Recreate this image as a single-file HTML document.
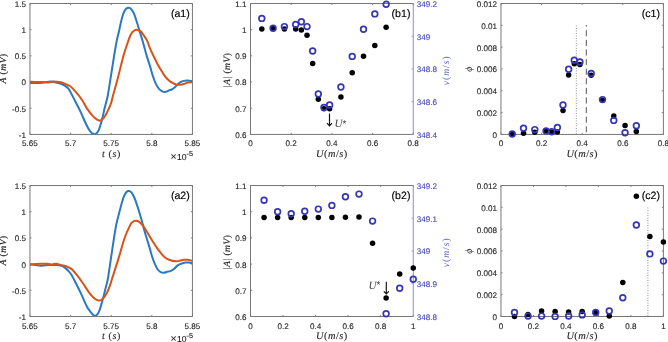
<!DOCTYPE html>
<html><head><meta charset="utf-8"><style>
html,body{margin:0;padding:0;background:#fff;}
svg{display:block;will-change:transform;}
</style></head><body>
<svg width="668" height="342" viewBox="0 0 668 342" text-rendering="geometricPrecision">
<rect width="668" height="342" fill="#fff"/>
<defs><clipPath id="ca1"><rect x="29.96" y="3" width="162.49" height="131.95"/></clipPath></defs>
<g clip-path="url(#ca1)" fill="none" stroke-width="2" stroke-linejoin="round">
<path d="M30 83C31.17 83 34.67 83.1 37 83C39.33 82.9 41.75 82.67 44 82.4C46.25 82.13 48.55 81.4 50.5 81.4C52.45 81.4 54.05 82.05 55.7 82.4C57.35 82.75 58.83 82.92 60.4 83.5C61.97 84.08 63.73 85.02 65.1 85.9C66.47 86.78 67.55 87.47 68.6 88.8C69.65 90.13 70.17 91.58 71.4 93.9C72.63 96.22 74.45 99.67 76 102.7C77.55 105.73 79.03 108.55 80.7 112.1C82.37 115.65 84.45 120.83 86 124C87.55 127.17 88.75 129.43 90 131.1C91.25 132.77 92.43 133.62 93.5 134C94.57 134.38 95.52 134.08 96.4 133.4C97.28 132.72 98.02 131.65 98.8 129.9C99.58 128.15 100.42 125.23 101.1 122.9C101.78 120.57 102.32 118.33 102.9 115.9C103.48 113.47 104.02 110.73 104.6 108.3C105.18 105.87 105.87 103.43 106.4 101.3C106.93 99.17 107.03 99.8 107.8 95.5C108.57 91.2 109.97 82 111 75.5C112.03 69 113.08 62.08 114 56.5C114.92 50.92 115.67 46.22 116.5 42C117.33 37.78 118.2 34.75 119 31.2C119.8 27.65 120.55 23.72 121.3 20.7C122.05 17.68 122.7 15.08 123.5 13.1C124.3 11.12 125.22 9.68 126.1 8.8C126.98 7.92 127.92 7.72 128.8 7.8C129.68 7.88 130.48 8.22 131.4 9.3C132.32 10.38 133.37 12.1 134.3 14.3C135.23 16.5 136.17 19.87 137 22.5C137.83 25.13 138.32 26.85 139.3 30.1C140.28 33.35 141.67 37.7 142.9 42C144.13 46.3 145.52 51.88 146.7 55.9C147.88 59.92 149.02 62.87 150 66.1C150.98 69.33 151.67 72.42 152.6 75.3C153.53 78.18 154.5 81.1 155.6 83.4C156.7 85.7 158 87.73 159.2 89.1C160.4 90.47 161.7 91.15 162.8 91.6C163.9 92.05 164.78 92 165.8 91.8C166.82 91.6 167.87 90.8 168.9 90.4C169.93 90 170.88 90.05 172 89.4C173.12 88.75 174.32 87.63 175.6 86.5C176.88 85.37 178.35 83.53 179.7 82.6C181.05 81.67 182.35 81.23 183.7 80.9C185.05 80.57 186.38 80.55 187.8 80.6C189.22 80.65 191.47 81.1 192.2 81.2" stroke="#2b79c2"/>
<path d="M30 81.8C31.17 81.85 34.85 82.07 37 82.1C39.15 82.13 40.95 81.95 42.9 82C44.85 82.05 46.95 82.47 48.7 82.4C50.45 82.33 51.65 81.65 53.4 81.6C55.15 81.55 57.38 81.78 59.2 82.1C61.02 82.42 62.47 82.8 64.3 83.5C66.13 84.2 68.25 84.85 70.2 86.3C72.15 87.75 74.05 89.95 76 92.2C77.95 94.45 80.05 97.07 81.9 99.8C83.75 102.53 85.35 105.97 87.1 108.6C88.85 111.23 90.73 113.75 92.4 115.6C94.07 117.45 95.85 118.87 97.1 119.7C98.35 120.53 98.93 120.75 99.9 120.6C100.87 120.45 101.92 119.78 102.9 118.8C103.88 117.82 104.83 116.35 105.8 114.7C106.77 113.05 107.82 110.85 108.7 108.9C109.58 106.95 110.4 105.15 111.1 103C111.8 100.85 111.75 100.25 112.9 96C114.05 91.75 116.25 84.17 118 77.5C119.75 70.83 121.75 61.92 123.4 56C125.05 50.08 126.67 45.58 127.9 42C129.13 38.42 129.73 36.42 130.8 34.5C131.87 32.58 133.18 31.27 134.3 30.5C135.42 29.73 136.43 29.77 137.5 29.9C138.57 30.03 139.62 30.32 140.7 31.3C141.78 32.28 142.92 34.2 144 35.8C145.08 37.4 146.17 38.72 147.2 40.9C148.23 43.08 148.53 45.13 150.2 48.9C151.87 52.67 155.45 60.05 157.2 63.5C158.95 66.95 159.52 67.63 160.7 69.6C161.88 71.57 163.02 73.58 164.3 75.3C165.58 77.02 167.03 78.63 168.4 79.9C169.77 81.17 171.13 82.1 172.5 82.9C173.87 83.7 175.32 84.4 176.6 84.7C177.88 85 179.02 84.82 180.2 84.7C181.38 84.58 182.43 84.38 183.7 84C184.97 83.62 186.38 82.7 187.8 82.4C189.22 82.1 191.47 82.23 192.2 82.2" stroke="#D95319"/>
</g>
<path d="M29.96 3.5H192.45M29.96 134.45H192.45M29.96 3.5V134.45" stroke="#777777" stroke-width="1" fill="none"/>
<path d="M192.45 3.5V134.45" stroke="#777777" stroke-width="1" fill="none"/>
<path d="M29.96 134.45v-1.6M29.96 3.5v1.6M70.58 134.45v-1.6M70.58 3.5v1.6M111.2 134.45v-1.6M111.2 3.5v1.6M151.83 134.45v-1.6M151.83 3.5v1.6M192.45 134.45v-1.6M192.45 3.5v1.6" stroke="#777777" stroke-width="0.9" fill="none"/>
<text x="29.96" y="146.45" font-size="8.1" text-anchor="middle" fill="#262626" font-family='"Liberation Sans", sans-serif' stroke="#262626" stroke-width="0.12">5.65</text>
<text x="70.58" y="146.45" font-size="8.1" text-anchor="middle" fill="#262626" font-family='"Liberation Sans", sans-serif' stroke="#262626" stroke-width="0.12">5.7</text>
<text x="111.2" y="146.45" font-size="8.1" text-anchor="middle" fill="#262626" font-family='"Liberation Sans", sans-serif' stroke="#262626" stroke-width="0.12">5.75</text>
<text x="151.83" y="146.45" font-size="8.1" text-anchor="middle" fill="#262626" font-family='"Liberation Sans", sans-serif' stroke="#262626" stroke-width="0.12">5.8</text>
<text x="192.45" y="146.45" font-size="8.1" text-anchor="middle" fill="#262626" font-family='"Liberation Sans", sans-serif' stroke="#262626" stroke-width="0.12">5.85</text>
<path d="M29.96 134.45h1.6M192.45 134.45h-1.6M29.96 108.26h1.6M192.45 108.26h-1.6M29.96 82.07h1.6M192.45 82.07h-1.6M29.96 55.88h1.6M192.45 55.88h-1.6M29.96 29.69h1.6M192.45 29.69h-1.6M29.96 3.5h1.6M192.45 3.5h-1.6" stroke="#777777" stroke-width="0.9" fill="none"/>
<text x="26.06" y="137.85" font-size="8.1" text-anchor="end" fill="#262626" font-family='"Liberation Sans", sans-serif' stroke="#262626" stroke-width="0.12">-1</text>
<text x="26.06" y="111.66" font-size="8.1" text-anchor="end" fill="#262626" font-family='"Liberation Sans", sans-serif' stroke="#262626" stroke-width="0.12">-0.5</text>
<text x="26.06" y="85.47" font-size="8.1" text-anchor="end" fill="#262626" font-family='"Liberation Sans", sans-serif' stroke="#262626" stroke-width="0.12">0</text>
<text x="26.06" y="59.28" font-size="8.1" text-anchor="end" fill="#262626" font-family='"Liberation Sans", sans-serif' stroke="#262626" stroke-width="0.12">0.5</text>
<text x="26.06" y="33.09" font-size="8.1" text-anchor="end" fill="#262626" font-family='"Liberation Sans", sans-serif' stroke="#262626" stroke-width="0.12">1</text>
<text x="26.06" y="6.9" font-size="8.1" text-anchor="end" fill="#262626" font-family='"Liberation Sans", sans-serif' stroke="#262626" stroke-width="0.12">1.5</text>
<text x="111.4" y="157.2" font-size="10" text-anchor="middle" fill="#262626" font-family='"Liberation Serif", serif' font-style="italic" stroke="#262626" stroke-width="0.12" xml:space="preserve" letter-spacing="0.6">t <tspan font-style="normal">(</tspan>s<tspan font-style="normal">)</tspan></text>
<text x="170.6" y="160.3" font-size="10.5" text-anchor="start" fill="#262626" font-family='"Liberation Sans", sans-serif' stroke="#262626" stroke-width="0.1">&#215;</text>
<text x="177" y="160" font-size="8.6" text-anchor="start" fill="#262626" font-family='"Liberation Sans", sans-serif' stroke="#262626" stroke-width="0.12">10</text>
<text x="186.6" y="156.3" font-size="7.2" text-anchor="start" fill="#262626" font-family='"Liberation Sans", sans-serif' stroke="#262626" stroke-width="0.12">-5</text>
<text transform="translate(6.4 68.4) rotate(-90)" font-size="9.6" text-anchor="middle" fill="#262626" font-family='"Liberation Serif", serif' font-style="italic" letter-spacing="0.5" stroke="#262626" stroke-width="0.2">A <tspan font-style="normal">(</tspan>mV<tspan font-style="normal">)</tspan></text>
<text x="180.3" y="16.6" font-size="10.6" text-anchor="middle" fill="#000" font-family='"Liberation Sans", sans-serif' stroke="#000" stroke-width="0.15">(a1)</text>
<defs><clipPath id="ca2"><rect x="29.96" y="185" width="162.49" height="132"/></clipPath></defs>
<g clip-path="url(#ca2)" fill="none" stroke-width="2" stroke-linejoin="round">
<path d="M30 264.4C30.97 264.5 34.05 264.77 35.8 265C37.55 265.23 38.93 265.75 40.5 265.8C42.07 265.85 43.63 265.43 45.2 265.3C46.77 265.17 48.15 265.05 49.9 265C51.65 264.95 53.75 264.87 55.7 265C57.65 265.13 60.03 265.32 61.6 265.8C63.17 266.28 63.95 267.03 65.1 267.9C66.25 268.77 67.45 269.85 68.5 271C69.55 272.15 70.15 272.72 71.4 274.8C72.65 276.88 74.45 280.48 76 283.5C77.55 286.52 78.93 289.15 80.7 292.9C82.47 296.65 85.05 302.93 86.6 306C88.15 309.07 88.75 309.68 90 311.3C91.25 312.92 92.93 315.12 94.1 315.7C95.27 316.28 96.12 315.63 97 314.8C97.88 313.97 98.62 312.65 99.4 310.7C100.18 308.75 101.02 305.43 101.7 303.1C102.38 300.77 102.92 298.93 103.5 296.7C104.08 294.47 104.62 292.03 105.2 289.7C105.78 287.37 106.52 284.73 107 282.7C107.48 280.67 107.43 281.62 108.1 277.5C108.77 273.38 110.02 264.58 111 258C111.98 251.42 113.1 243.67 114 238C114.9 232.33 115.55 228.13 116.4 224C117.25 219.87 118.25 216.55 119.1 213.2C119.95 209.85 120.72 206.67 121.5 203.9C122.28 201.13 122.97 198.58 123.8 196.6C124.63 194.62 125.67 192.93 126.5 192C127.33 191.07 127.98 190.93 128.8 191C129.62 191.07 130.48 191.32 131.4 192.4C132.32 193.48 133.33 195.3 134.3 197.5C135.27 199.7 136.32 202.98 137.2 205.6C138.08 208.22 138.68 210.13 139.6 213.2C140.52 216.27 141.97 221.33 142.7 224C143.43 226.67 143.2 226.38 144 229.2C144.8 232.02 146.5 237.58 147.5 240.9C148.5 244.22 149.25 246.55 150 249.1C150.75 251.65 151.23 253.82 152 256.2C152.77 258.58 153.65 261.18 154.6 263.4C155.55 265.62 156.68 268.05 157.7 269.5C158.72 270.95 159.68 271.55 160.7 272.1C161.72 272.65 162.77 272.85 163.8 272.8C164.83 272.75 165.8 272.08 166.9 271.8C168 271.52 169.22 271.57 170.4 271.1C171.58 270.63 172.8 269.95 174 269C175.2 268.05 176.4 266.28 177.6 265.4C178.8 264.52 179.92 264.17 181.2 263.7C182.48 263.23 184.02 262.78 185.3 262.6C186.58 262.42 187.75 262.5 188.9 262.6C190.05 262.7 191.65 263.1 192.2 263.2" stroke="#2b79c2"/>
<path d="M30 264.4C31.57 264.3 36.48 263.9 39.4 263.8C42.32 263.7 45.37 263.7 47.5 263.8C49.63 263.9 50.73 264.4 52.2 264.4C53.67 264.4 54.73 263.65 56.3 263.8C57.87 263.95 60.07 264.93 61.6 265.3C63.13 265.67 63.87 265.4 65.5 266C67.13 266.6 69.45 267.33 71.4 268.9C73.35 270.47 75.25 272.97 77.2 275.4C79.15 277.83 81.15 280.68 83.1 283.5C85.05 286.32 87.05 289.85 88.9 292.3C90.75 294.75 92.63 296.83 94.2 298.2C95.77 299.57 97.15 300.2 98.3 300.5C99.45 300.8 100.15 300.53 101.1 300C102.05 299.47 103.02 298.53 104 297.3C104.98 296.07 106.02 294.55 107 292.6C107.98 290.65 109.02 288.03 109.9 285.6C110.78 283.17 110.83 282.62 112.3 278C113.77 273.38 116.65 264.57 118.7 257.9C120.75 251.23 122.68 243.47 124.6 238C126.52 232.53 128.92 227.73 130.2 225.1C131.48 222.47 131.45 222.92 132.3 222.2C133.15 221.48 134.22 220.9 135.3 220.8C136.38 220.7 137.53 220.78 138.8 221.6C140.07 222.42 141.45 223.85 142.9 225.7C144.35 227.55 145.85 230.07 147.5 232.7C149.15 235.33 151.23 238.97 152.8 241.5C154.37 244.03 155.53 245.95 156.9 247.9C158.27 249.85 159.6 251.55 161 253.2C162.4 254.85 163.73 256.62 165.3 257.8C166.87 258.98 168.68 259.73 170.4 260.3C172.12 260.87 174.05 261.12 175.6 261.2C177.15 261.28 178.35 261.03 179.7 260.8C181.05 260.57 182.35 259.97 183.7 259.8C185.05 259.63 186.38 259.63 187.8 259.8C189.22 259.97 191.47 260.63 192.2 260.8" stroke="#D95319"/>
</g>
<path d="M29.96 185.5H192.45M29.96 316.5H192.45M29.96 185.5V316.5" stroke="#777777" stroke-width="1" fill="none"/>
<path d="M192.45 185.5V316.5" stroke="#777777" stroke-width="1" fill="none"/>
<path d="M29.96 316.5v-1.6M29.96 185.5v1.6M70.58 316.5v-1.6M70.58 185.5v1.6M111.2 316.5v-1.6M111.2 185.5v1.6M151.83 316.5v-1.6M151.83 185.5v1.6M192.45 316.5v-1.6M192.45 185.5v1.6" stroke="#777777" stroke-width="0.9" fill="none"/>
<text x="29.96" y="328.5" font-size="8.1" text-anchor="middle" fill="#262626" font-family='"Liberation Sans", sans-serif' stroke="#262626" stroke-width="0.12">5.65</text>
<text x="70.58" y="328.5" font-size="8.1" text-anchor="middle" fill="#262626" font-family='"Liberation Sans", sans-serif' stroke="#262626" stroke-width="0.12">5.7</text>
<text x="111.2" y="328.5" font-size="8.1" text-anchor="middle" fill="#262626" font-family='"Liberation Sans", sans-serif' stroke="#262626" stroke-width="0.12">5.75</text>
<text x="151.83" y="328.5" font-size="8.1" text-anchor="middle" fill="#262626" font-family='"Liberation Sans", sans-serif' stroke="#262626" stroke-width="0.12">5.8</text>
<text x="192.45" y="328.5" font-size="8.1" text-anchor="middle" fill="#262626" font-family='"Liberation Sans", sans-serif' stroke="#262626" stroke-width="0.12">5.85</text>
<path d="M29.96 316.5h1.6M192.45 316.5h-1.6M29.96 290.3h1.6M192.45 290.3h-1.6M29.96 264.1h1.6M192.45 264.1h-1.6M29.96 237.9h1.6M192.45 237.9h-1.6M29.96 211.7h1.6M192.45 211.7h-1.6M29.96 185.5h1.6M192.45 185.5h-1.6" stroke="#777777" stroke-width="0.9" fill="none"/>
<text x="26.06" y="319.9" font-size="8.1" text-anchor="end" fill="#262626" font-family='"Liberation Sans", sans-serif' stroke="#262626" stroke-width="0.12">-1</text>
<text x="26.06" y="293.7" font-size="8.1" text-anchor="end" fill="#262626" font-family='"Liberation Sans", sans-serif' stroke="#262626" stroke-width="0.12">-0.5</text>
<text x="26.06" y="267.5" font-size="8.1" text-anchor="end" fill="#262626" font-family='"Liberation Sans", sans-serif' stroke="#262626" stroke-width="0.12">0</text>
<text x="26.06" y="241.3" font-size="8.1" text-anchor="end" fill="#262626" font-family='"Liberation Sans", sans-serif' stroke="#262626" stroke-width="0.12">0.5</text>
<text x="26.06" y="215.1" font-size="8.1" text-anchor="end" fill="#262626" font-family='"Liberation Sans", sans-serif' stroke="#262626" stroke-width="0.12">1</text>
<text x="26.06" y="188.9" font-size="8.1" text-anchor="end" fill="#262626" font-family='"Liberation Sans", sans-serif' stroke="#262626" stroke-width="0.12">1.5</text>
<text x="111.4" y="339.2" font-size="10" text-anchor="middle" fill="#262626" font-family='"Liberation Serif", serif' font-style="italic" stroke="#262626" stroke-width="0.12" xml:space="preserve" letter-spacing="0.6">t <tspan font-style="normal">(</tspan>s<tspan font-style="normal">)</tspan></text>
<text x="170.6" y="342.3" font-size="10.5" text-anchor="start" fill="#262626" font-family='"Liberation Sans", sans-serif' stroke="#262626" stroke-width="0.1">&#215;</text>
<text x="177" y="342" font-size="8.6" text-anchor="start" fill="#262626" font-family='"Liberation Sans", sans-serif' stroke="#262626" stroke-width="0.12">10</text>
<text x="186.6" y="338.3" font-size="7.2" text-anchor="start" fill="#262626" font-family='"Liberation Sans", sans-serif' stroke="#262626" stroke-width="0.12">-5</text>
<text transform="translate(6.4 250.4) rotate(-90)" font-size="9.6" text-anchor="middle" fill="#262626" font-family='"Liberation Serif", serif' font-style="italic" letter-spacing="0.5" stroke="#262626" stroke-width="0.2">A <tspan font-style="normal">(</tspan>mV<tspan font-style="normal">)</tspan></text>
<text x="180.3" y="198.6" font-size="10.6" text-anchor="middle" fill="#000" font-family='"Liberation Sans", sans-serif' stroke="#000" stroke-width="0.15">(a2)</text>
<path d="M250.5 3.5H413.25M250.5 134.45H413.25M250.5 3.5V134.45" stroke="#777777" stroke-width="1" fill="none"/>
<path d="M413.25 3.5V134.45" stroke="#8c8cd6" stroke-width="1" fill="none"/>
<path d="M250.5 134.45v-1.6M250.5 3.5v1.6M291.19 134.45v-1.6M291.19 3.5v1.6M331.88 134.45v-1.6M331.88 3.5v1.6M372.56 134.45v-1.6M372.56 3.5v1.6M413.25 134.45v-1.6M413.25 3.5v1.6" stroke="#777777" stroke-width="0.9" fill="none"/>
<text x="250.5" y="146.45" font-size="8.1" text-anchor="middle" fill="#262626" font-family='"Liberation Sans", sans-serif' stroke="#262626" stroke-width="0.12">0</text>
<text x="291.19" y="146.45" font-size="8.1" text-anchor="middle" fill="#262626" font-family='"Liberation Sans", sans-serif' stroke="#262626" stroke-width="0.12">0.2</text>
<text x="331.88" y="146.45" font-size="8.1" text-anchor="middle" fill="#262626" font-family='"Liberation Sans", sans-serif' stroke="#262626" stroke-width="0.12">0.4</text>
<text x="372.56" y="146.45" font-size="8.1" text-anchor="middle" fill="#262626" font-family='"Liberation Sans", sans-serif' stroke="#262626" stroke-width="0.12">0.6</text>
<text x="413.25" y="146.45" font-size="8.1" text-anchor="middle" fill="#262626" font-family='"Liberation Sans", sans-serif' stroke="#262626" stroke-width="0.12">0.8</text>
<path d="M250.5 134.45h1.6M250.5 108.26h1.6M250.5 82.07h1.6M250.5 55.88h1.6M250.5 29.69h1.6M250.5 3.5h1.6" stroke="#777777" stroke-width="0.9" fill="none"/>
<text x="246.6" y="137.85" font-size="8.1" text-anchor="end" fill="#262626" font-family='"Liberation Sans", sans-serif' stroke="#262626" stroke-width="0.12">0.6</text>
<text x="246.6" y="111.66" font-size="8.1" text-anchor="end" fill="#262626" font-family='"Liberation Sans", sans-serif' stroke="#262626" stroke-width="0.12">0.7</text>
<text x="246.6" y="85.47" font-size="8.1" text-anchor="end" fill="#262626" font-family='"Liberation Sans", sans-serif' stroke="#262626" stroke-width="0.12">0.8</text>
<text x="246.6" y="59.28" font-size="8.1" text-anchor="end" fill="#262626" font-family='"Liberation Sans", sans-serif' stroke="#262626" stroke-width="0.12">0.9</text>
<text x="246.6" y="33.09" font-size="8.1" text-anchor="end" fill="#262626" font-family='"Liberation Sans", sans-serif' stroke="#262626" stroke-width="0.12">1</text>
<text x="246.6" y="6.9" font-size="8.1" text-anchor="end" fill="#262626" font-family='"Liberation Sans", sans-serif' stroke="#262626" stroke-width="0.12">1.1</text>
<path d="M413.25 134.45h-1.6M413.25 101.71h-1.6M413.25 68.97h-1.6M413.25 36.24h-1.6M413.25 3.5h-1.6" stroke="#8c8cd6" stroke-width="0.9" fill="none"/>
<text x="416.65" y="137.85" font-size="8.1" text-anchor="start" fill="#4a4ac0" font-family='"Liberation Sans", sans-serif' stroke="#4a4ac0" stroke-width="0.12">348.4</text>
<text x="416.65" y="105.11" font-size="8.1" text-anchor="start" fill="#4a4ac0" font-family='"Liberation Sans", sans-serif' stroke="#4a4ac0" stroke-width="0.12">348.6</text>
<text x="416.65" y="72.37" font-size="8.1" text-anchor="start" fill="#4a4ac0" font-family='"Liberation Sans", sans-serif' stroke="#4a4ac0" stroke-width="0.12">348.8</text>
<text x="416.65" y="39.64" font-size="8.1" text-anchor="start" fill="#4a4ac0" font-family='"Liberation Sans", sans-serif' stroke="#4a4ac0" stroke-width="0.12">349</text>
<text x="416.65" y="6.9" font-size="8.1" text-anchor="start" fill="#4a4ac0" font-family='"Liberation Sans", sans-serif' stroke="#4a4ac0" stroke-width="0.12">349.2</text>
<circle cx="261.8" cy="29" r="2.75" fill="#000"/>
<circle cx="273.1" cy="28.6" r="2.75" fill="#000"/>
<circle cx="284.41" cy="29" r="2.75" fill="#000"/>
<circle cx="295.71" cy="29" r="2.75" fill="#000"/>
<circle cx="301.36" cy="29.9" r="2.75" fill="#000"/>
<circle cx="307.01" cy="35.2" r="2.75" fill="#000"/>
<circle cx="312.66" cy="63.6" r="2.75" fill="#000"/>
<circle cx="318.31" cy="99.2" r="2.75" fill="#000"/>
<circle cx="323.96" cy="108.7" r="2.75" fill="#000"/>
<circle cx="329.61" cy="108.7" r="2.75" fill="#000"/>
<circle cx="340.92" cy="97" r="2.75" fill="#000"/>
<circle cx="352.22" cy="72.7" r="2.75" fill="#000"/>
<circle cx="363.52" cy="56.3" r="2.75" fill="#000"/>
<circle cx="374.82" cy="45.5" r="2.75" fill="#000"/>
<circle cx="386.12" cy="27.3" r="2.75" fill="#000"/>
<circle cx="261.8" cy="18.4" r="2.85" fill="none" stroke="#3636b4" stroke-width="1.7"/>
<circle cx="273.1" cy="28.2" r="2.85" fill="none" stroke="#3636b4" stroke-width="1.7"/>
<circle cx="284.41" cy="26.6" r="2.85" fill="none" stroke="#3636b4" stroke-width="1.7"/>
<circle cx="295.71" cy="24.5" r="2.85" fill="none" stroke="#3636b4" stroke-width="1.7"/>
<circle cx="301.36" cy="21.7" r="2.85" fill="none" stroke="#3636b4" stroke-width="1.7"/>
<circle cx="307.01" cy="26.6" r="2.85" fill="none" stroke="#3636b4" stroke-width="1.7"/>
<circle cx="312.66" cy="51" r="2.85" fill="none" stroke="#3636b4" stroke-width="1.7"/>
<circle cx="318.31" cy="93.9" r="2.85" fill="none" stroke="#3636b4" stroke-width="1.7"/>
<circle cx="323.96" cy="107.4" r="2.85" fill="none" stroke="#3636b4" stroke-width="1.7"/>
<circle cx="329.61" cy="105" r="2.85" fill="none" stroke="#3636b4" stroke-width="1.7"/>
<circle cx="340.92" cy="87" r="2.85" fill="none" stroke="#3636b4" stroke-width="1.7"/>
<circle cx="352.22" cy="56.4" r="2.85" fill="none" stroke="#3636b4" stroke-width="1.7"/>
<circle cx="363.52" cy="29.2" r="2.85" fill="none" stroke="#3636b4" stroke-width="1.7"/>
<circle cx="374.82" cy="13.9" r="2.85" fill="none" stroke="#3636b4" stroke-width="1.7"/>
<circle cx="386.12" cy="4.3" r="2.85" fill="none" stroke="#3636b4" stroke-width="1.7"/>
<path d="M250.5 185.5H413.25M250.5 316.5H413.25M250.5 185.5V316.5" stroke="#777777" stroke-width="1" fill="none"/>
<path d="M413.25 185.5V316.5" stroke="#8c8cd6" stroke-width="1" fill="none"/>
<path d="M250.5 316.5v-1.6M250.5 185.5v1.6M283.05 316.5v-1.6M283.05 185.5v1.6M315.6 316.5v-1.6M315.6 185.5v1.6M348.15 316.5v-1.6M348.15 185.5v1.6M380.7 316.5v-1.6M380.7 185.5v1.6M413.25 316.5v-1.6M413.25 185.5v1.6" stroke="#777777" stroke-width="0.9" fill="none"/>
<text x="250.5" y="328.5" font-size="8.1" text-anchor="middle" fill="#262626" font-family='"Liberation Sans", sans-serif' stroke="#262626" stroke-width="0.12">0</text>
<text x="283.05" y="328.5" font-size="8.1" text-anchor="middle" fill="#262626" font-family='"Liberation Sans", sans-serif' stroke="#262626" stroke-width="0.12">0.2</text>
<text x="315.6" y="328.5" font-size="8.1" text-anchor="middle" fill="#262626" font-family='"Liberation Sans", sans-serif' stroke="#262626" stroke-width="0.12">0.4</text>
<text x="348.15" y="328.5" font-size="8.1" text-anchor="middle" fill="#262626" font-family='"Liberation Sans", sans-serif' stroke="#262626" stroke-width="0.12">0.6</text>
<text x="380.7" y="328.5" font-size="8.1" text-anchor="middle" fill="#262626" font-family='"Liberation Sans", sans-serif' stroke="#262626" stroke-width="0.12">0.8</text>
<text x="413.25" y="328.5" font-size="8.1" text-anchor="middle" fill="#262626" font-family='"Liberation Sans", sans-serif' stroke="#262626" stroke-width="0.12">1</text>
<path d="M250.5 316.5h1.6M250.5 290.3h1.6M250.5 264.1h1.6M250.5 237.9h1.6M250.5 211.7h1.6M250.5 185.5h1.6" stroke="#777777" stroke-width="0.9" fill="none"/>
<text x="246.6" y="319.9" font-size="8.1" text-anchor="end" fill="#262626" font-family='"Liberation Sans", sans-serif' stroke="#262626" stroke-width="0.12">0.6</text>
<text x="246.6" y="293.7" font-size="8.1" text-anchor="end" fill="#262626" font-family='"Liberation Sans", sans-serif' stroke="#262626" stroke-width="0.12">0.7</text>
<text x="246.6" y="267.5" font-size="8.1" text-anchor="end" fill="#262626" font-family='"Liberation Sans", sans-serif' stroke="#262626" stroke-width="0.12">0.8</text>
<text x="246.6" y="241.3" font-size="8.1" text-anchor="end" fill="#262626" font-family='"Liberation Sans", sans-serif' stroke="#262626" stroke-width="0.12">0.9</text>
<text x="246.6" y="215.1" font-size="8.1" text-anchor="end" fill="#262626" font-family='"Liberation Sans", sans-serif' stroke="#262626" stroke-width="0.12">1</text>
<text x="246.6" y="188.9" font-size="8.1" text-anchor="end" fill="#262626" font-family='"Liberation Sans", sans-serif' stroke="#262626" stroke-width="0.12">1.1</text>
<path d="M413.25 316.5h-1.6M413.25 283.75h-1.6M413.25 251h-1.6M413.25 218.25h-1.6M413.25 185.5h-1.6" stroke="#8c8cd6" stroke-width="0.9" fill="none"/>
<text x="416.65" y="319.9" font-size="8.1" text-anchor="start" fill="#4a4ac0" font-family='"Liberation Sans", sans-serif' stroke="#4a4ac0" stroke-width="0.12">348.8</text>
<text x="416.65" y="287.15" font-size="8.1" text-anchor="start" fill="#4a4ac0" font-family='"Liberation Sans", sans-serif' stroke="#4a4ac0" stroke-width="0.12">348.9</text>
<text x="416.65" y="254.4" font-size="8.1" text-anchor="start" fill="#4a4ac0" font-family='"Liberation Sans", sans-serif' stroke="#4a4ac0" stroke-width="0.12">349</text>
<text x="416.65" y="221.65" font-size="8.1" text-anchor="start" fill="#4a4ac0" font-family='"Liberation Sans", sans-serif' stroke="#4a4ac0" stroke-width="0.12">349.1</text>
<text x="416.65" y="188.9" font-size="8.1" text-anchor="start" fill="#4a4ac0" font-family='"Liberation Sans", sans-serif' stroke="#4a4ac0" stroke-width="0.12">349.2</text>
<circle cx="264.06" cy="217.5" r="2.75" fill="#000"/>
<circle cx="277.62" cy="217.5" r="2.75" fill="#000"/>
<circle cx="291.19" cy="217.5" r="2.75" fill="#000"/>
<circle cx="304.75" cy="217.5" r="2.75" fill="#000"/>
<circle cx="318.31" cy="217.5" r="2.75" fill="#000"/>
<circle cx="331.88" cy="217.5" r="2.75" fill="#000"/>
<circle cx="345.44" cy="217.2" r="2.75" fill="#000"/>
<circle cx="359" cy="216.9" r="2.75" fill="#000"/>
<circle cx="372.56" cy="243.3" r="2.75" fill="#000"/>
<circle cx="386.12" cy="298" r="2.75" fill="#000"/>
<circle cx="399.69" cy="274.1" r="2.75" fill="#000"/>
<circle cx="413.25" cy="268" r="2.75" fill="#000"/>
<circle cx="264.06" cy="200.2" r="2.85" fill="none" stroke="#3636b4" stroke-width="1.7"/>
<circle cx="277.62" cy="211.7" r="2.85" fill="none" stroke="#3636b4" stroke-width="1.7"/>
<circle cx="291.19" cy="213.8" r="2.85" fill="none" stroke="#3636b4" stroke-width="1.7"/>
<circle cx="304.75" cy="211.2" r="2.85" fill="none" stroke="#3636b4" stroke-width="1.7"/>
<circle cx="318.31" cy="209.1" r="2.85" fill="none" stroke="#3636b4" stroke-width="1.7"/>
<circle cx="331.88" cy="205.4" r="2.85" fill="none" stroke="#3636b4" stroke-width="1.7"/>
<circle cx="345.44" cy="196.7" r="2.85" fill="none" stroke="#3636b4" stroke-width="1.7"/>
<circle cx="359" cy="194.1" r="2.85" fill="none" stroke="#3636b4" stroke-width="1.7"/>
<circle cx="372.56" cy="221.1" r="2.85" fill="none" stroke="#3636b4" stroke-width="1.7"/>
<circle cx="386.12" cy="313.8" r="2.85" fill="none" stroke="#3636b4" stroke-width="1.7"/>
<circle cx="399.69" cy="288.2" r="2.85" fill="none" stroke="#3636b4" stroke-width="1.7"/>
<circle cx="413.25" cy="279.2" r="2.85" fill="none" stroke="#3636b4" stroke-width="1.7"/>
<text x="331.9" y="157.2" font-size="10.4" text-anchor="middle" fill="#262626" font-family='"Liberation Serif", serif' font-style="italic" stroke="#262626" stroke-width="0.12" letter-spacing="0.45">U<tspan font-style="normal">(</tspan>m<tspan font-style="normal">/</tspan>s<tspan font-style="normal">)</tspan></text>
<text transform="translate(230.4 70) rotate(-90)" font-size="9.6" text-anchor="middle" fill="#262626" font-family='"Liberation Serif", serif' font-style="italic" letter-spacing="0.45" stroke="#262626" stroke-width="0.15"><tspan font-style="normal">|</tspan>A<tspan font-style="normal">|</tspan> <tspan font-style="normal">(</tspan>mV<tspan font-style="normal">)</tspan></text>
<text transform="translate(449.2 70.3) rotate(-90)" font-size="9.6" text-anchor="middle" fill="#5c5cc8" font-family='"Liberation Serif", serif' font-style="italic" letter-spacing="1.0">v<tspan font-style="normal">(</tspan>m<tspan font-style="normal">/</tspan>s<tspan font-style="normal">)</tspan></text>
<text x="401" y="16.6" font-size="10.6" text-anchor="middle" fill="#000" font-family='"Liberation Sans", sans-serif' stroke="#000" stroke-width="0.15">(b1)</text>
<text x="331.9" y="339.2" font-size="10.4" text-anchor="middle" fill="#262626" font-family='"Liberation Serif", serif' font-style="italic" stroke="#262626" stroke-width="0.12" letter-spacing="0.45">U<tspan font-style="normal">(</tspan>m<tspan font-style="normal">/</tspan>s<tspan font-style="normal">)</tspan></text>
<text transform="translate(230.4 252) rotate(-90)" font-size="9.6" text-anchor="middle" fill="#262626" font-family='"Liberation Serif", serif' font-style="italic" letter-spacing="0.45" stroke="#262626" stroke-width="0.15"><tspan font-style="normal">|</tspan>A<tspan font-style="normal">|</tspan> <tspan font-style="normal">(</tspan>mV<tspan font-style="normal">)</tspan></text>
<text transform="translate(449.2 252.3) rotate(-90)" font-size="9.6" text-anchor="middle" fill="#5c5cc8" font-family='"Liberation Serif", serif' font-style="italic" letter-spacing="1.0">v<tspan font-style="normal">(</tspan>m<tspan font-style="normal">/</tspan>s<tspan font-style="normal">)</tspan></text>
<text x="401" y="198.6" font-size="10.6" text-anchor="middle" fill="#000" font-family='"Liberation Sans", sans-serif' stroke="#000" stroke-width="0.15">(b2)</text>
<path d="M329.5 113.6V125.8M327 123.2L329.5 125.8L332 123.2" stroke="#111" stroke-width="1.15" fill="none"/>
<text x="334.6" y="127" font-size="11" text-anchor="start" fill="#444" font-family='"Liberation Serif", serif' font-style="italic">U</text>
<text x="342.6" y="126.6" font-size="10" text-anchor="start" fill="#444" font-family='"Liberation Sans", sans-serif'>*</text>
<path d="M386.3 281.7V294M383.8 291.4L386.3 294L388.8 291.4" stroke="#111" stroke-width="1.15" fill="none"/>
<text x="368.6" y="288.8" font-size="11" text-anchor="start" fill="#444" font-family='"Liberation Serif", serif' font-style="italic">U</text>
<text x="376.6" y="288.4" font-size="10" text-anchor="start" fill="#444" font-family='"Liberation Sans", sans-serif'>*</text>
<path d="M500.96 3.5H663.4M500.96 134.45H663.4M500.96 3.5V134.45" stroke="#777777" stroke-width="1" fill="none"/>
<path d="M663.4 3.5V134.45" stroke="#777777" stroke-width="1" fill="none"/>
<path d="M576.3 25.5V134" stroke="#777" stroke-width="0.9" stroke-dasharray="0.9 1.6" fill="none"/>
<path d="M586.3 25.1V134" stroke="#555" stroke-width="1" stroke-dasharray="6 3.6" stroke-dashoffset="4.4" fill="none"/>
<path d="M500.96 134.45v-1.6M500.96 3.5v1.6M541.57 134.45v-1.6M541.57 3.5v1.6M582.18 134.45v-1.6M582.18 3.5v1.6M622.79 134.45v-1.6M622.79 3.5v1.6M663.4 134.45v-1.6M663.4 3.5v1.6" stroke="#777777" stroke-width="0.9" fill="none"/>
<text x="500.96" y="146.45" font-size="8.1" text-anchor="middle" fill="#262626" font-family='"Liberation Sans", sans-serif' stroke="#262626" stroke-width="0.12">0</text>
<text x="541.57" y="146.45" font-size="8.1" text-anchor="middle" fill="#262626" font-family='"Liberation Sans", sans-serif' stroke="#262626" stroke-width="0.12">0.2</text>
<text x="582.18" y="146.45" font-size="8.1" text-anchor="middle" fill="#262626" font-family='"Liberation Sans", sans-serif' stroke="#262626" stroke-width="0.12">0.4</text>
<text x="622.79" y="146.45" font-size="8.1" text-anchor="middle" fill="#262626" font-family='"Liberation Sans", sans-serif' stroke="#262626" stroke-width="0.12">0.6</text>
<text x="663.4" y="146.45" font-size="8.1" text-anchor="middle" fill="#262626" font-family='"Liberation Sans", sans-serif' stroke="#262626" stroke-width="0.12">0.8</text>
<path d="M500.96 134.45h1.6M663.4 134.45h-1.6M500.96 112.62h1.6M663.4 112.62h-1.6M500.96 90.8h1.6M663.4 90.8h-1.6M500.96 68.97h1.6M663.4 68.97h-1.6M500.96 47.15h1.6M663.4 47.15h-1.6M500.96 25.32h1.6M663.4 25.32h-1.6M500.96 3.5h1.6M663.4 3.5h-1.6" stroke="#777777" stroke-width="0.9" fill="none"/>
<text x="497.06" y="137.85" font-size="8.1" text-anchor="end" fill="#262626" font-family='"Liberation Sans", sans-serif' stroke="#262626" stroke-width="0.12">0</text>
<text x="497.06" y="116.03" font-size="8.1" text-anchor="end" fill="#262626" font-family='"Liberation Sans", sans-serif' stroke="#262626" stroke-width="0.12">0.002</text>
<text x="497.06" y="94.2" font-size="8.1" text-anchor="end" fill="#262626" font-family='"Liberation Sans", sans-serif' stroke="#262626" stroke-width="0.12">0.004</text>
<text x="497.06" y="72.38" font-size="8.1" text-anchor="end" fill="#262626" font-family='"Liberation Sans", sans-serif' stroke="#262626" stroke-width="0.12">0.006</text>
<text x="497.06" y="50.55" font-size="8.1" text-anchor="end" fill="#262626" font-family='"Liberation Sans", sans-serif' stroke="#262626" stroke-width="0.12">0.008</text>
<text x="497.06" y="28.72" font-size="8.1" text-anchor="end" fill="#262626" font-family='"Liberation Sans", sans-serif' stroke="#262626" stroke-width="0.12">0.01</text>
<text x="497.06" y="6.9" font-size="8.1" text-anchor="end" fill="#262626" font-family='"Liberation Sans", sans-serif' stroke="#262626" stroke-width="0.12">0.012</text>
<circle cx="512.24" cy="134" r="2.75" fill="#000"/>
<circle cx="523.52" cy="133.2" r="2.75" fill="#000"/>
<circle cx="534.8" cy="132.3" r="2.75" fill="#000"/>
<circle cx="546.08" cy="131.2" r="2.75" fill="#000"/>
<circle cx="551.72" cy="131.9" r="2.75" fill="#000"/>
<circle cx="557.36" cy="131.9" r="2.75" fill="#000"/>
<circle cx="563" cy="110.5" r="2.75" fill="#000"/>
<circle cx="568.64" cy="75.1" r="2.75" fill="#000"/>
<circle cx="574.28" cy="63.8" r="2.75" fill="#000"/>
<circle cx="579.92" cy="64.6" r="2.75" fill="#000"/>
<circle cx="591.2" cy="75.3" r="2.75" fill="#000"/>
<circle cx="602.49" cy="100.2" r="2.75" fill="#000"/>
<circle cx="613.77" cy="116" r="2.75" fill="#000"/>
<circle cx="625.05" cy="125.4" r="2.75" fill="#000"/>
<circle cx="636.33" cy="131.5" r="2.75" fill="#000"/>
<circle cx="512.24" cy="134" r="2.85" fill="none" stroke="#3636b4" stroke-width="1.7"/>
<circle cx="523.52" cy="128.2" r="2.85" fill="none" stroke="#3636b4" stroke-width="1.7"/>
<circle cx="534.8" cy="129.6" r="2.85" fill="none" stroke="#3636b4" stroke-width="1.7"/>
<circle cx="546.08" cy="130.9" r="2.85" fill="none" stroke="#3636b4" stroke-width="1.7"/>
<circle cx="551.72" cy="131.8" r="2.85" fill="none" stroke="#3636b4" stroke-width="1.7"/>
<circle cx="557.36" cy="127.4" r="2.85" fill="none" stroke="#3636b4" stroke-width="1.7"/>
<circle cx="563" cy="105" r="2.85" fill="none" stroke="#3636b4" stroke-width="1.7"/>
<circle cx="568.64" cy="69.3" r="2.85" fill="none" stroke="#3636b4" stroke-width="1.7"/>
<circle cx="574.28" cy="60.3" r="2.85" fill="none" stroke="#3636b4" stroke-width="1.7"/>
<circle cx="579.92" cy="62" r="2.85" fill="none" stroke="#3636b4" stroke-width="1.7"/>
<circle cx="591.2" cy="73.5" r="2.85" fill="none" stroke="#3636b4" stroke-width="1.7"/>
<circle cx="602.49" cy="99.6" r="2.85" fill="none" stroke="#3636b4" stroke-width="1.7"/>
<circle cx="613.77" cy="120.4" r="2.85" fill="none" stroke="#3636b4" stroke-width="1.7"/>
<circle cx="625.05" cy="132.7" r="2.85" fill="none" stroke="#3636b4" stroke-width="1.7"/>
<circle cx="636.33" cy="125.7" r="2.85" fill="none" stroke="#3636b4" stroke-width="1.7"/>
<path d="M500.96 185.5H663.4M500.96 316.5H663.4M500.96 185.5V316.5" stroke="#777777" stroke-width="1" fill="none"/>
<path d="M663.4 185.5V316.5" stroke="#777777" stroke-width="1" fill="none"/>
<path d="M647.9 207.6V316" stroke="#777" stroke-width="0.9" stroke-dasharray="0.9 1.6" fill="none"/>
<path d="M500.96 316.5v-1.6M500.96 185.5v1.6M533.45 316.5v-1.6M533.45 185.5v1.6M565.94 316.5v-1.6M565.94 185.5v1.6M598.42 316.5v-1.6M598.42 185.5v1.6M630.91 316.5v-1.6M630.91 185.5v1.6M663.4 316.5v-1.6M663.4 185.5v1.6" stroke="#777777" stroke-width="0.9" fill="none"/>
<text x="500.96" y="328.5" font-size="8.1" text-anchor="middle" fill="#262626" font-family='"Liberation Sans", sans-serif' stroke="#262626" stroke-width="0.12">0</text>
<text x="533.45" y="328.5" font-size="8.1" text-anchor="middle" fill="#262626" font-family='"Liberation Sans", sans-serif' stroke="#262626" stroke-width="0.12">0.2</text>
<text x="565.94" y="328.5" font-size="8.1" text-anchor="middle" fill="#262626" font-family='"Liberation Sans", sans-serif' stroke="#262626" stroke-width="0.12">0.4</text>
<text x="598.42" y="328.5" font-size="8.1" text-anchor="middle" fill="#262626" font-family='"Liberation Sans", sans-serif' stroke="#262626" stroke-width="0.12">0.6</text>
<text x="630.91" y="328.5" font-size="8.1" text-anchor="middle" fill="#262626" font-family='"Liberation Sans", sans-serif' stroke="#262626" stroke-width="0.12">0.8</text>
<text x="663.4" y="328.5" font-size="8.1" text-anchor="middle" fill="#262626" font-family='"Liberation Sans", sans-serif' stroke="#262626" stroke-width="0.12">1</text>
<path d="M500.96 316.5h1.6M663.4 316.5h-1.6M500.96 294.67h1.6M663.4 294.67h-1.6M500.96 272.83h1.6M663.4 272.83h-1.6M500.96 251h1.6M663.4 251h-1.6M500.96 229.17h1.6M663.4 229.17h-1.6M500.96 207.33h1.6M663.4 207.33h-1.6M500.96 185.5h1.6M663.4 185.5h-1.6" stroke="#777777" stroke-width="0.9" fill="none"/>
<text x="497.06" y="319.9" font-size="8.1" text-anchor="end" fill="#262626" font-family='"Liberation Sans", sans-serif' stroke="#262626" stroke-width="0.12">0</text>
<text x="497.06" y="298.07" font-size="8.1" text-anchor="end" fill="#262626" font-family='"Liberation Sans", sans-serif' stroke="#262626" stroke-width="0.12">0.002</text>
<text x="497.06" y="276.23" font-size="8.1" text-anchor="end" fill="#262626" font-family='"Liberation Sans", sans-serif' stroke="#262626" stroke-width="0.12">0.004</text>
<text x="497.06" y="254.4" font-size="8.1" text-anchor="end" fill="#262626" font-family='"Liberation Sans", sans-serif' stroke="#262626" stroke-width="0.12">0.006</text>
<text x="497.06" y="232.57" font-size="8.1" text-anchor="end" fill="#262626" font-family='"Liberation Sans", sans-serif' stroke="#262626" stroke-width="0.12">0.008</text>
<text x="497.06" y="210.73" font-size="8.1" text-anchor="end" fill="#262626" font-family='"Liberation Sans", sans-serif' stroke="#262626" stroke-width="0.12">0.01</text>
<text x="497.06" y="188.9" font-size="8.1" text-anchor="end" fill="#262626" font-family='"Liberation Sans", sans-serif' stroke="#262626" stroke-width="0.12">0.012</text>
<circle cx="514.5" cy="316.4" r="2.75" fill="#000"/>
<circle cx="528.03" cy="314.6" r="2.75" fill="#000"/>
<circle cx="541.57" cy="310.9" r="2.75" fill="#000"/>
<circle cx="555.11" cy="311.5" r="2.75" fill="#000"/>
<circle cx="568.64" cy="311.9" r="2.75" fill="#000"/>
<circle cx="582.18" cy="311.5" r="2.75" fill="#000"/>
<circle cx="595.72" cy="312.4" r="2.75" fill="#000"/>
<circle cx="609.25" cy="316.1" r="2.75" fill="#000"/>
<circle cx="622.79" cy="282.6" r="2.75" fill="#000"/>
<circle cx="636.33" cy="196.3" r="2.75" fill="#000"/>
<circle cx="649.86" cy="236.6" r="2.75" fill="#000"/>
<circle cx="663.4" cy="242" r="2.75" fill="#000"/>
<circle cx="514.5" cy="312.4" r="2.85" fill="none" stroke="#3636b4" stroke-width="1.7"/>
<circle cx="528.03" cy="316.1" r="2.85" fill="none" stroke="#3636b4" stroke-width="1.7"/>
<circle cx="541.57" cy="316.1" r="2.85" fill="none" stroke="#3636b4" stroke-width="1.7"/>
<circle cx="555.11" cy="316.4" r="2.85" fill="none" stroke="#3636b4" stroke-width="1.7"/>
<circle cx="568.64" cy="316" r="2.85" fill="none" stroke="#3636b4" stroke-width="1.7"/>
<circle cx="582.18" cy="314.9" r="2.85" fill="none" stroke="#3636b4" stroke-width="1.7"/>
<circle cx="595.72" cy="312.4" r="2.85" fill="none" stroke="#3636b4" stroke-width="1.7"/>
<circle cx="609.25" cy="310.9" r="2.85" fill="none" stroke="#3636b4" stroke-width="1.7"/>
<circle cx="622.79" cy="297.7" r="2.85" fill="none" stroke="#3636b4" stroke-width="1.7"/>
<circle cx="636.33" cy="225" r="2.85" fill="none" stroke="#3636b4" stroke-width="1.7"/>
<circle cx="649.86" cy="253.9" r="2.85" fill="none" stroke="#3636b4" stroke-width="1.7"/>
<circle cx="663.4" cy="261.1" r="2.85" fill="none" stroke="#3636b4" stroke-width="1.7"/>
<text x="582.2" y="157.2" font-size="10.4" text-anchor="middle" fill="#262626" font-family='"Liberation Serif", serif' font-style="italic" stroke="#262626" stroke-width="0.12" letter-spacing="0.45">U<tspan font-style="normal">(</tspan>m<tspan font-style="normal">/</tspan>s<tspan font-style="normal">)</tspan></text>
<text transform="translate(472.2 69.2) rotate(-90)" font-size="10" text-anchor="middle" fill="#262626" font-family='"Liberation Serif", serif' font-style="italic">&#981;</text>
<text x="650.8" y="16.6" font-size="10.6" text-anchor="middle" fill="#000" font-family='"Liberation Sans", sans-serif' stroke="#000" stroke-width="0.15">(c1)</text>
<text x="582.2" y="339.2" font-size="10.4" text-anchor="middle" fill="#262626" font-family='"Liberation Serif", serif' font-style="italic" stroke="#262626" stroke-width="0.12" letter-spacing="0.45">U<tspan font-style="normal">(</tspan>m<tspan font-style="normal">/</tspan>s<tspan font-style="normal">)</tspan></text>
<text transform="translate(472.2 251.2) rotate(-90)" font-size="10" text-anchor="middle" fill="#262626" font-family='"Liberation Serif", serif' font-style="italic">&#981;</text>
<text x="650.8" y="198.6" font-size="10.6" text-anchor="middle" fill="#000" font-family='"Liberation Sans", sans-serif' stroke="#000" stroke-width="0.15">(c2)</text>
</svg></body></html>
